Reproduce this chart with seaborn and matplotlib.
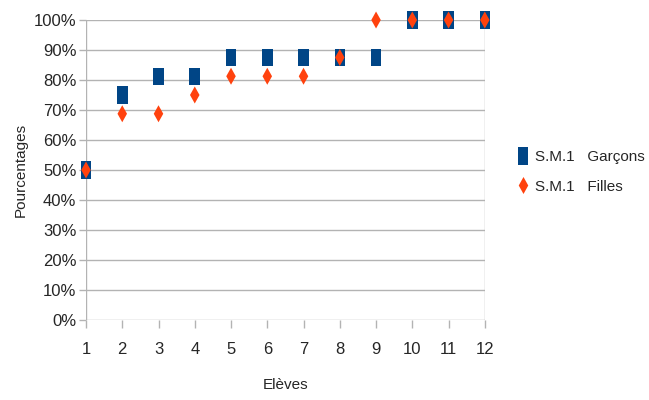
import matplotlib
matplotlib.use("Agg")
import matplotlib.pyplot as plt
import seaborn as sns
import pandas as pd
from matplotlib.path import Path

eleves = list(range(1, 13))
garcons = [50, 75, 81.25, 81.25, 87.5, 87.5, 87.5, 87.5, 87.5, 100, 100, 100]
filles = [50, 68.75, 68.75, 75, 81.25, 81.25, 81.25, 87.5, 100, 100, 100, 100]
series_names = ["S.M.1   Garçons", "S.M.1   Filles"]
yticks = list(range(0, 101, 10))

sns.set_style("white")
plt.rcParams['font.family'] = ['Liberation Sans', 'DejaVu Sans']

df = pd.DataFrame({
    "Elèves": eleves * 2,
    "val": garcons + filles,
    "serie": [series_names[0]] * 12 + [series_names[1]] * 12,
})

rect = Path([(-0.31, -0.5), (0.31, -0.5), (0.31, 0.5), (-0.31, 0.5), (-0.31, -0.5)],
            [Path.MOVETO, Path.LINETO, Path.LINETO, Path.LINETO, Path.CLOSEPOLY])
diam = Path([(0, -0.5), (0.28, 0), (0, 0.5), (-0.28, 0), (0, -0.5)],
            [Path.MOVETO, Path.LINETO, Path.LINETO, Path.LINETO, Path.CLOSEPOLY])

fig = plt.figure(figsize=(6.49, 4.0), dpi=100)
ax = fig.add_axes([0.1325, 0.2, 0.6145, 0.75])

sns.scatterplot(data=df, x="Elèves", y="val", hue="serie", style="serie",
                markers={series_names[0]: rect, series_names[1]: diam},
                palette={series_names[0]: "#004586", series_names[1]: "#ff420e"},
                s=150, linewidth=0, ax=ax, clip_on=False, zorder=3)

ax.set_xlim(1, 12)
ax.set_ylim(0, 100)
ax.set_xticks(eleves)
ax.set_yticks(yticks)
ax.set_yticklabels([f"{t}%" for t in yticks])
ax.grid(axis="y", color="#b3b3b3", linewidth=1)
ax.set_axisbelow(True)
for s in ["top", "right", "left", "bottom"]:
    ax.spines[s].set_visible(False)
ax.axvline(1, color="#b3b3b3", lw=1, zorder=1)
ax.axvline(12, color="#b3b3b3", lw=1, zorder=1)
ax.tick_params(axis="x", direction="out", length=6, color="#b3b3b3", width=1,
               labelsize=12, pad=10, bottom=True)
ax.tick_params(axis="y", direction="out", length=5, color="#b3b3b3", width=1,
               labelsize=12, pad=2, left=True)
ax.set_xlabel("Elèves", fontsize=11, labelpad=15)
ax.set_ylabel("Pourcentages", fontsize=11, labelpad=4)

leg = ax.legend(loc="center left", bbox_to_anchor=(0.77, 0.57),
                bbox_transform=fig.transFigure, frameon=False,
                fontsize=11, handletextpad=0.2, labelspacing=1.0, markerscale=1.0,
                handlelength=1.2)

fig.savefig("out.png", dpi=100)
